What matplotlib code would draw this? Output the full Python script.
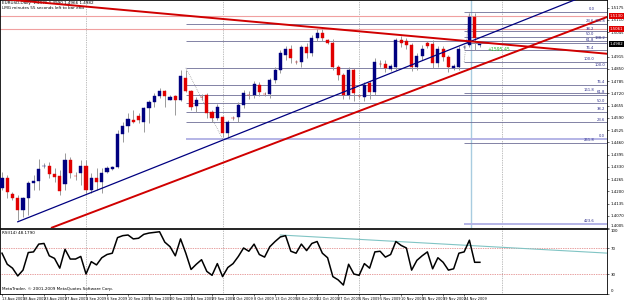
import matplotlib
matplotlib.use("Agg")
import matplotlib.pyplot as plt
import matplotlib.transforms as mtransforms

# EURUSD daily candles, 13 Aug - 27 Nov 2009
opens = [1.4219, 1.4272, 1.4187, 1.4166, 1.4102, 1.4166, 1.4245, 1.4256, 1.4333, 1.4335,
         1.4293, 1.4282, 1.4240, 1.4367, 1.4282, 1.4298, 1.4335, 1.4208, 1.4272, 1.4251,
         1.4303, 1.4319, 1.4330, 1.4505, 1.4547, 1.4579, 1.4600, 1.4568, 1.4643, 1.4674,
         1.4706, 1.4733, 1.4685, 1.4706, 1.4685, 1.4802, 1.4733, 1.4653, 1.4701, 1.4711,
         1.4621, 1.4590, 1.4595, 1.4510, 1.4590, 1.4595, 1.4659, 1.4712, 1.4711, 1.4765,
         1.4717, 1.4717, 1.4791, 1.4844, 1.4923, 1.4955, 1.4887, 1.4887, 1.4966, 1.4934,
         1.5014, 1.5040, 1.5003, 1.4987, 1.4860, 1.4818, 1.4711, 1.4844, 1.4706, 1.4701,
         1.4775, 1.4727, 1.4876, 1.4876, 1.4850, 1.4860, 1.5003, 1.4997, 1.4976, 1.4860,
         1.4918, 1.4987, 1.4981, 1.4881, 1.4955, 1.4913, 1.4855, 1.4860, 1.4966, 1.4976,
         1.5125, 1.4976]
highs = [1.4303, 1.4288, 1.4197, 1.4182, 1.4171, 1.4256, 1.4288, 1.4372, 1.4351, 1.4356,
         1.4325, 1.4314, 1.4404, 1.4383, 1.4303, 1.4367, 1.4367, 1.4298, 1.4325, 1.4325,
         1.4335, 1.4335, 1.4526, 1.4568, 1.4616, 1.4632, 1.4616, 1.4648, 1.4685, 1.4722,
         1.4749, 1.4738, 1.4711, 1.4711, 1.4844, 1.4844, 1.4738, 1.4701, 1.4717, 1.4722,
         1.4632, 1.4664, 1.4600, 1.4579, 1.4600, 1.4674, 1.4738, 1.4733, 1.4786, 1.4780,
         1.4727, 1.4802, 1.4860, 1.4950, 1.4971, 1.4976, 1.4897, 1.4976, 1.4987, 1.5030,
         1.5061, 1.5061, 1.5008, 1.5008, 1.4870, 1.4828, 1.4860, 1.4855, 1.4717, 1.4780,
         1.4786, 1.4908, 1.4897, 1.4897, 1.4876, 1.5014, 1.5024, 1.5014, 1.4987, 1.4934,
         1.4976, 1.4997, 1.5003, 1.4971, 1.4971, 1.4923, 1.4876, 1.4971, 1.4976, 1.5146,
         1.5146, 1.4990]
lows = [1.4208, 1.4166, 1.4155, 1.4049, 1.4065, 1.4075, 1.4208, 1.4208, 1.4325, 1.4272,
        1.4251, 1.4182, 1.4208, 1.4272, 1.4261, 1.4235, 1.4192, 1.4192, 1.4208, 1.4192,
        1.4298, 1.4314, 1.4325, 1.4462, 1.4515, 1.4563, 1.4563, 1.4515, 1.4563, 1.4648,
        1.4695, 1.4648, 1.4685, 1.4606, 1.4680, 1.4728, 1.4632, 1.4621, 1.4685, 1.4590,
        1.4568, 1.4579, 1.4489, 1.4484, 1.4579, 1.4568, 1.4643, 1.4690, 1.4695, 1.4706,
        1.4706, 1.4695, 1.4775, 1.4828, 1.4897, 1.4881, 1.4876, 1.4860, 1.4908, 1.4918,
        1.4997, 1.4997, 1.4981, 1.4844, 1.4791, 1.4690, 1.4690, 1.4680, 1.4695, 1.4680,
        1.4690, 1.4711, 1.4860, 1.4834, 1.4839, 1.4844, 1.4966, 1.4955, 1.4839, 1.4844,
        1.4897, 1.4960, 1.4855, 1.4860, 1.4892, 1.4834, 1.4844, 1.4844, 1.4955, 1.4966,
        1.4950, 1.4966]
closes = [1.4272, 1.4197, 1.4166, 1.4102, 1.4166, 1.4245, 1.4256, 1.4319, 1.4335, 1.4293,
          1.4277, 1.4203, 1.4367, 1.4298, 1.4280, 1.4335, 1.4208, 1.4272, 1.4251, 1.4298,
          1.4325, 1.4330, 1.4505, 1.4547, 1.4584, 1.4568, 1.4579, 1.4643, 1.4674, 1.4706,
          1.4733, 1.4706, 1.4701, 1.4685, 1.4812, 1.4733, 1.4648, 1.4685, 1.4700, 1.4616,
          1.4590, 1.4648, 1.4510, 1.4568, 1.4589, 1.4659, 1.4722, 1.4711, 1.4770, 1.4727,
          1.4716, 1.4791, 1.4844, 1.4934, 1.4955, 1.4908, 1.4886, 1.4966, 1.4934, 1.5014,
          1.5040, 1.5014, 1.4987, 1.4860, 1.4818, 1.4711, 1.4844, 1.4722, 1.4705, 1.4765,
          1.4727, 1.4886, 1.4875, 1.4855, 1.4865, 1.5003, 1.4987, 1.4976, 1.4860, 1.4918,
          1.4955, 1.4971, 1.4881, 1.4955, 1.4913, 1.4860, 1.4865, 1.4955, 1.4967, 1.5125,
          1.5014, 1.4982]

rsi = [62, 45, 39, 27, 36, 63, 64, 76, 77, 58, 54, 39, 68, 53, 53, 57, 30, 49, 44, 55,
       60, 62, 86, 89, 90, 84, 85, 91, 93, 94, 95, 79, 72, 58, 84, 62, 37, 45, 52, 34,
       28, 46, 26, 40, 46, 57, 70, 65, 76, 60, 56, 72, 80, 87, 89, 65, 62, 76, 66, 77,
       80, 62, 55, 26, 21, 13, 45, 30, 28, 46, 39, 64, 65, 56, 60, 80, 74, 70, 36, 51,
       58, 64, 38, 55, 48, 36, 38, 62, 64, 82, 48, 48]

date_bars = [0, 4, 8, 12, 16, 20, 24, 28, 32, 36, 40, 44, 48, 52, 56, 60, 64, 68, 72, 76, 80, 84, 88]
date_labels = ['13 Aug 2009', '18 Aug 2009', '23 Aug 2009', '27 Aug 2009', '1 Sep 2009',
               '6 Sep 2009', '10 Sep 2009', '15 Sep 2009', '20 Sep 2009', '24 Sep 2009',
               '29 Sep 2009', '4 Oct 2009', '8 Oct 2009', '13 Oct 2009', '18 Oct 2009',
               '22 Oct 2009', '27 Oct 2009', '1 Nov 2009', '5 Nov 2009', '10 Nov 2009',
               '15 Nov 2009', '19 Nov 2009', '24 Nov 2009']

price_ticks = [1.5175, 1.5110, 1.5045, 1.4915, 1.4850, 1.4785, 1.4720, 1.4655, 1.4590,
               1.4525, 1.4460, 1.4395, 1.4330, 1.4265, 1.4200, 1.4135, 1.4070, 1.4005]

# Fibonacci tools
fib_a_levels = [0.0, 23.6, 38.2, 50.0, 61.8, 76.4, 100.0, 138.2, 161.8]
fib_a_low, fib_a_high, fib_a_start = 1.4478, 1.4855, 35
fib_b_levels = [0.0, 23.6, 38.2, 50.0, 61.8, 76.4, 100.0, 161.8, 261.8, 423.6]
fib_b_high, fib_b_low, fib_b_start = 1.5151, 1.4886, 88

# horizontal lines with price boxes, trendlines (bar, price anchors)
hlines_red = [1.5130, 1.5061]
last_price = 1.4982
navy_trend = [(3, 1.4038), (115.5, 1.5287)]
red_fall = [(-1, 1.5223), (115.5, 1.4929)]
red_rise = [(9.5, 1.4007), (115.5, 1.5128)]
rsi_trend = [(53, 90), (115.5, 62)]
separators = [16, 42, 68, 95.2]

XMIN, XMAX = -0.38, 115.2
W, H = 625, 300

fig = plt.figure(figsize=(W / 100, H / 100), dpi=100)
fig.patch.set_facecolor('white')
ax = fig.add_axes([0, (H - 228) / H, 607 / W, 228 / H])
rax = fig.add_axes([0, (H - 293.5) / H, 607 / W, 65 / H])

ax.set_xlim(XMIN, XMAX)
ax.set_ylim(1.40066, 1.5215)
rax.set_xlim(XMIN, XMAX)
rax.set_ylim(0, 100)

# candles
bars = list(range(len(opens)))
ax.vlines(bars, lows, highs, color='#9a9a9a', lw=0.7, zorder=3)
for i in bars:
    o, c = opens[i], closes[i]
    col = '#000080' if c >= o else '#e00000'
    bot = min(o, c)
    h = max(abs(c - o), 0.00012)
    ax.bar(i, h, bottom=bot, width=0.6, color=col, edgecolor=col, lw=0.3, zorder=4)

# fib A (from September top)
for lv in fib_a_levels:
    p = fib_a_low + lv / 100 * (fib_a_high - fib_a_low)
    col, lw = ('#b4b4e6', 1.4) if lv == 0 else ('#6e6e96', 0.6)
    ax.hlines(p, fib_a_start, XMAX, color=col, lw=lw, zorder=2)
    ax.text(XMAX - 0.4, p + 0.0003, '%.1f' % lv, ha='right', va='bottom',
            fontsize=2.7, color='#2a2a8a', zorder=6)
ax.plot([fib_a_start, 42], [fib_a_high, fib_a_low], color='#808080', lw=0.5, ls=':', zorder=2)

# fib B (from November top), labels a little to the left of fib A ones
for lv in fib_b_levels:
    p = fib_b_high - lv / 100 * (fib_b_high - fib_b_low)
    col, lw = ('#b4b4e6', 1.4) if lv == 423.6 else ('#6e6e96', 0.6)
    ax.hlines(p, fib_b_start, XMAX, color=col, lw=lw, zorder=2)
    ax.text(XMAX - 2.4, p + 0.0003, '%.1f' % lv, ha='right', va='bottom',
            fontsize=2.7, color='#2a2a8a', zorder=6)
ax.plot([fib_b_start, 89], [fib_b_low, fib_b_high], color='#808080', lw=0.5, ls=':', zorder=2)

for p in hlines_red:
    ax.axhline(p, color='#f0a0a0', lw=0.8, zorder=2)

# trendlines
for pts, col, lw in [(navy_trend, '#000080', 0.9), (red_fall, '#d00000', 1.4),
                     (red_rise, '#d00000', 1.4)]:
    ax.plot([pts[0][0], pts[1][0]], [pts[0][1], pts[1][1]], color=col, lw=lw, zorder=5)

ax.axvline(89.3, color='#a8cce0', lw=1.0, zorder=1)
for b in separators:
    ax.axvline(b, color='#808080', lw=0.5, ls=(0, (1, 1.5)), zorder=1)
    rax.axvline(b, color='#808080', lw=0.5, ls=(0, (1, 1.5)), zorder=1)

# price axis
ax.yaxis.tick_right()
ax.set_yticks(price_ticks)
ax.set_yticklabels(['%.4f' % p for p in price_ticks])
ax.tick_params(axis='y', labelsize=2.8, length=1.5, width=0.4, pad=1)
for lab in ax.get_yticklabels()[-1:]:
    lab.set_va('bottom')
ax.set_xticks([])
tr = mtransforms.blended_transform_factory(ax.transAxes, ax.transData)
for p in hlines_red:
    ax.text(1.004, p, '%.4f' % p, transform=tr, fontsize=2.8, color='white', va='center',
            ha='left', bbox=dict(facecolor='#e00000', edgecolor='none', pad=0.6), clip_on=False)
ax.text(1.004, last_price, '%.4f' % last_price, transform=tr, fontsize=2.8, color='white',
        va='center', ha='left', bbox=dict(facecolor='black', edgecolor='none', pad=0.6),
        clip_on=False)

ax.text(0.003, 0.997, 'EURUSD,Daily  1.4976 1.4990 1.4966 1.4982', transform=ax.transAxes,
        fontsize=3, va='top', ha='left')
ax.text(0.003, 0.975, 'LMG minutes 55 seconds left to bar end', transform=ax.transAxes,
        fontsize=3, va='top', ha='left')
ax.text(92.5, 1.4950, '+1595.45', fontsize=3.3, color='#20c020', va='center', zorder=6)

# RSI panel
rax.plot(bars, rsi, color='black', lw=1.1, zorder=3)
rax.axhline(70, color='#d04040', lw=0.5, ls=(0, (1, 1.5)))
rax.axhline(30, color='#d04040', lw=0.5, ls=(0, (1, 1.5)))
rax.plot([rsi_trend[0][0], rsi_trend[1][0]], [rsi_trend[0][1], rsi_trend[1][1]],
         color='#80c4c4', lw=0.8, zorder=2)
rax.yaxis.tick_right()
rax.set_yticks([100, 70, 30, 0])
rax.set_yticklabels(['100', '70', '30', '0'])
rax.tick_params(axis='y', labelsize=2.8, length=1.5, width=0.4, pad=1)
ylabs = rax.get_yticklabels()
ylabs[0].set_va('top')
ylabs[-1].set_va('bottom')
rax.set_xticks(date_bars)
rax.set_xticklabels(date_labels, ha='left')
rax.tick_params(axis='x', labelsize=2.5, length=1.5, width=0.4, pad=0.8)
rax.text(0.003, 0.96, 'RSI(14) 48.1790', transform=rax.transAxes, fontsize=3, va='top')
rax.text(0.003, 0.04, 'MetaTrader, \u00a9 2001-2009 MetaQuotes Software Corp.',
         transform=rax.transAxes, fontsize=3, va='bottom')

for a in (ax, rax):
    for s in a.spines.values():
        s.set_linewidth(0.6)
        s.set_color('black')

fig.savefig('out.png', dpi=100, facecolor='white')
